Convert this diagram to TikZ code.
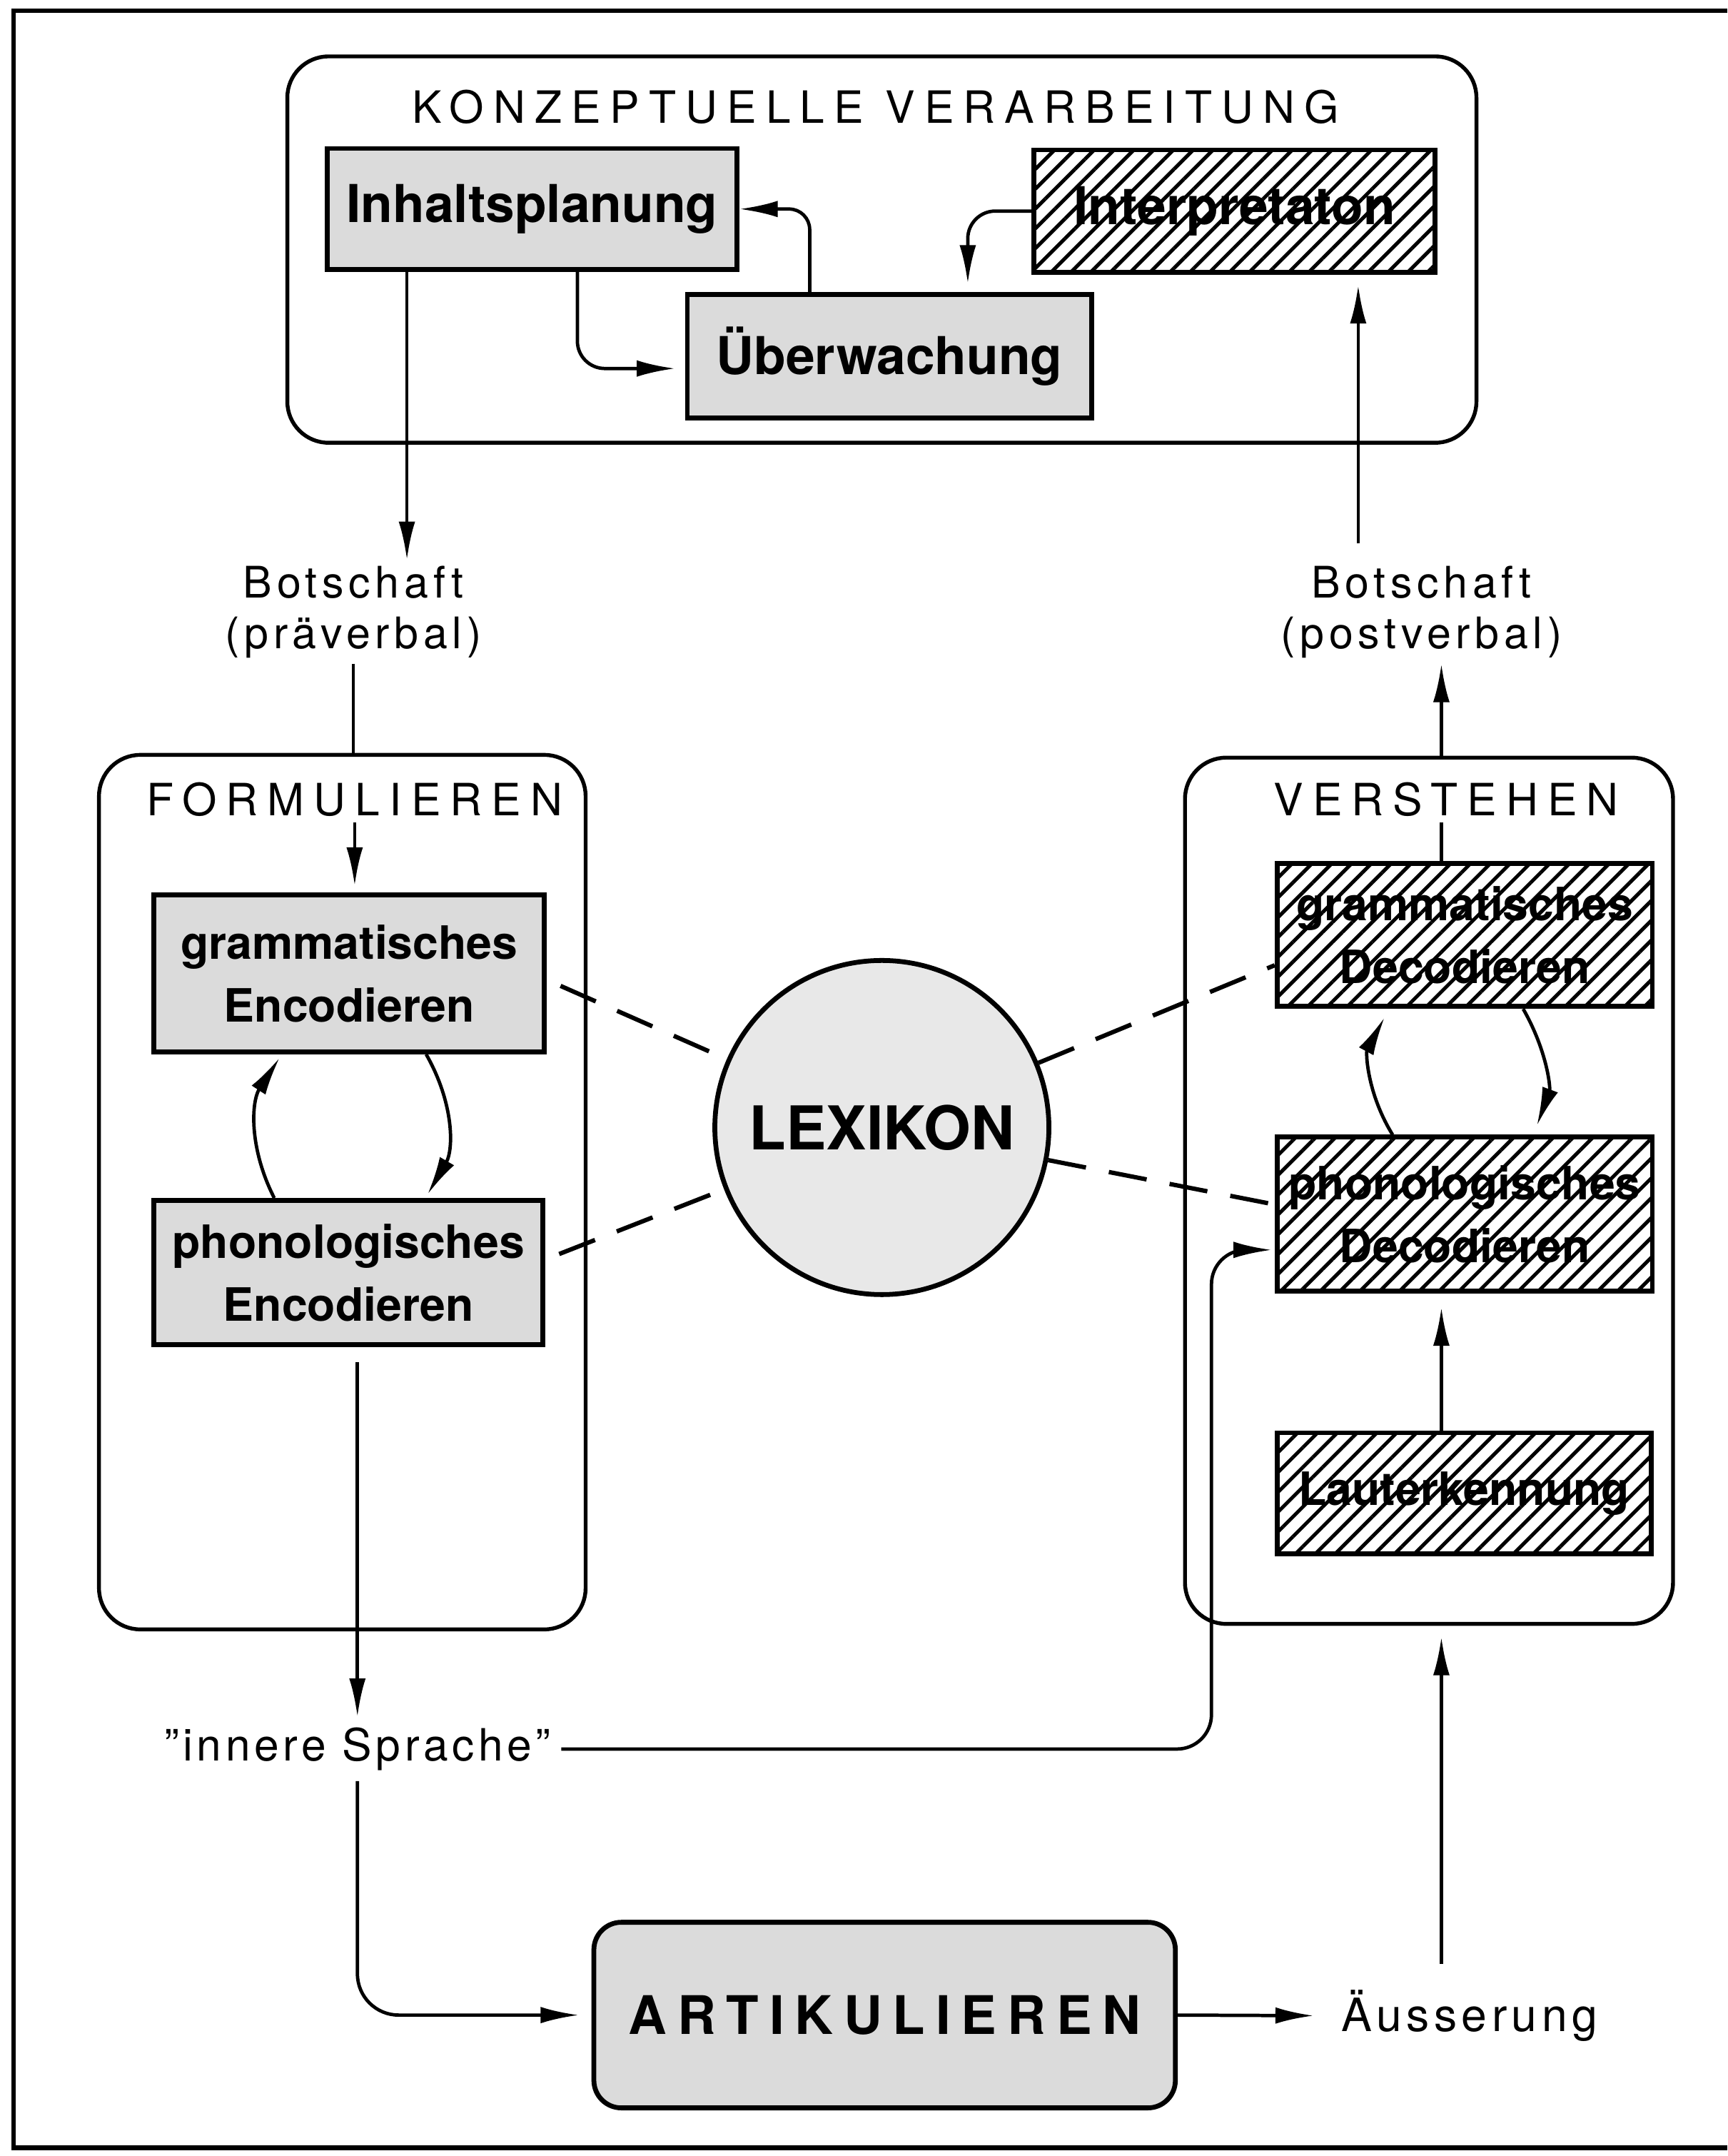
\documentclass[tikz,border=0pt]{standalone}
\usepackage{fontspec}
\setmainfont{TeX Gyre Heros}
\usepackage{tikz}
\usetikzlibrary{positioning, arrows.meta, patterns.meta}

\begin{document}
\begin{tikzpicture}[x=0.1mm, y=-0.1mm,
  every node/.style={inner sep=1pt},
  grouptitle/.style={font=\fontsize{9.2}{11}\selectfont\addfontfeatures{LetterSpace=21}},
  msg/.style={align=center, font=\fontsize{9}{10.5}\selectfont\addfontfeatures{LetterSpace=11}},
  stage/.style={draw, line width=0.8pt, rounded corners=3mm},
  greybox/.style={draw, line width=1pt, fill=black!14, align=center, inner sep=0pt},
  hatchbox/.style={draw, line width=1pt, align=center, inner sep=0pt,
    pattern={Lines[angle=45, distance=2.9pt, line width=0.75pt]}},
  toptext/.style={font=\fontsize{10.8}{13}\selectfont\bfseries},
  boxtext/.style={font=\fontsize{9.5}{13}\selectfont\bfseries},
  arr/.style={line width=0.7pt, -{Latex[length=2.8mm, width=1.2mm]}},
  lexlink/.style={line width=0.9pt, dash pattern=on 2.8mm off 1.7mm}
]
  \useasboundingbox (0,0) rectangle (1256.5,1568);
  \draw[line width=0.9pt] (1256.5,8) -- (10,8) -- (10,1562) -- (1256.5,1562);

  % the three stages
  \node[stage, minimum width=86.5mm, minimum height=28.1mm] (konz) at (641.5,181.5) {};
  \node[stage, minimum width=35.4mm, minimum height=63.6mm] (form) at (249,867) {};
  \node[stage, minimum width=35.5mm, minimum height=63mm] (vers) at (1039.5,866) {};
  \node[grouptitle] (ktitle) at (637,78) {KONZEPTUELLE VERARBEITUNG};
  \node[grouptitle] (ftitle) at (258,581.5) {FORMULIEREN};
  \node[grouptitle] (vtitle) at (1052,581.5) {VERSTEHEN};

  % boxes
  \node[greybox, toptext, minimum width=29.8mm, minimum height=8.8mm] (plan) at (387,152) {Inhaltsplanung};
  \node[hatchbox, toptext, minimum width=29.2mm, minimum height=8.9mm] (interp) at (898,153.5) {Interpretaton};
  \node[greybox, toptext, minimum width=29.4mm, minimum height=9mm] (watch) at (647,259) {Überwachung};
  \node[greybox, boxtext, minimum width=28.4mm, minimum height=11.4mm] (genc) at (254,708) {grammatisches\\Encodieren};
  \node[greybox, boxtext, minimum width=28.3mm, minimum height=10.5mm] (penc) at (253.5,925.5) {phonologisches\\Encodieren};
  \node[hatchbox, boxtext, minimum width=27.3mm, minimum height=10.4mm] (gdec) at (1065.5,680) {grammatisches\\Decodieren};
  \node[hatchbox, boxtext, minimum width=27.3mm, minimum height=11.2mm] (pdec) at (1065.5,883) {phonologisches\\Decodieren};
  \node[hatchbox, boxtext, minimum width=27.2mm, minimum height=8.8mm] (laut) at (1065,1086) {Lauterkennung};
  \node[circle, draw, line width=1pt, fill=black!9, minimum size=24.3mm, inner sep=0pt,
    font=\fontsize{12.5}{15}\selectfont\bfseries] (lex) at (641.5,820) {LEXIKON};
  \node[greybox, rounded corners=2mm, minimum width=42.3mm, minimum height=13.5mm,
    font=\fontsize{11}{13}\selectfont\bfseries\addfontfeatures{LetterSpace=20}] (art) at (643.5,1465.5) {ARTIKULIEREN};

  % free labels
  \node[msg] (bpre) at (257,445) {Botschaft\\(präverbal)};
  \node[msg] (bpost) at (1034,445) {Botschaft\\(postverbal)};
  \node[msg, inner sep=2pt, font=\fontsize{9.2}{11}\selectfont\addfontfeatures{LetterSpace=9}] (inner) at (260,1272) {"innere Sprache"};
  \node[msg, font=\fontsize{9.5}{11}\selectfont\addfontfeatures{LetterSpace=10}] (out) at (1069,1466) {Äusserung};

  \coordinate (lcol) at ([xshift=-9.1mm]plan.south);
  \coordinate (icol) at ([xshift=9mm]interp.south);
  \coordinate (rcol) at ([xshift=-1.7mm]gdec.north);

  % conceptual loop
  \draw[arr, rounded corners=1.5mm] ([xshift=-5.8mm]watch.north) |- (plan.east);
  \draw[arr, rounded corners=2mm, shorten >=0.6mm] (interp.west) -| ([xshift=5.7mm]watch.north);
  \draw[arr, rounded corners=2mm, shorten >=0.7mm] ([xshift=3.3mm]plan.south) |- ([yshift=-0.9mm]watch.west);

  % messages
  \draw[arr] (lcol) -- (lcol |- bpre.north);
  \draw[line width=0.7pt] (bpre.south) -- (bpre.south |- form.north);
  \draw[arr, shorten >=0.5mm] (ftitle.south) -- (ftitle.south |- genc.north);
  \draw[line width=0.7pt] (gdec.north -| rcol) -- (rcol |- vtitle.south);
  \draw[arr] (vers.north -| rcol) -- (rcol |- bpost.south);
  \draw[arr, shorten <=1.2mm, shorten >=0.8mm] (icol |- bpost.north) -- (icol);

  % loops inside the stages
  \draw[arr, shorten >=0.3mm] ([xshift=-5.4mm]penc.north) to[bend left=30] ([xshift=-4.9mm]genc.south);
  \draw[arr, shorten >=0.3mm] ([xshift=5.6mm]genc.south) to[bend left=30] ([xshift=5.6mm]penc.north);
  \draw[arr, shorten >=0.7mm] ([xshift=-5.25mm]pdec.north) to[bend left=30] ([xshift=-5.5mm]gdec.south);
  \draw[arr, shorten >=0.7mm] ([xshift=4.25mm]gdec.south) to[bend left=25] ([xshift=5mm]pdec.north);
  \draw[arr, shorten >=1mm] (laut.north -| rcol) -- (pdec.south -| rcol);

  % lexicon
  \draw[lexlink] ([xshift=1mm, yshift=-0.9mm]genc.east) -- (lex);
  \draw[lexlink] ([xshift=1mm, yshift=1.35mm]penc.east) -- (lex);
  \draw[lexlink] (lex) -- ([yshift=-2.2mm]gdec.west);
  \draw[lexlink] (lex) -- ([yshift=0.7mm]pdec.west);

  % speech
  \draw[arr, shorten <=1.1mm] (inner.north |- penc.south) -- (inner.north);
  \draw[arr, rounded corners=2.5mm, shorten >=0.2mm] (inner.east) -| ([xshift=-4.6mm, yshift=-2.6mm]pdec.west) -- ([yshift=-2.6mm]pdec.west);
  \draw[arr, rounded corners=3mm, shorten >=0.9mm] (inner.south) |- (art.west);
  \draw[arr, shorten >=1.6mm] (art.east) -- (out.west);
  \draw[arr, shorten <=1.5mm, shorten >=0.8mm] (out.north -| rcol) -- (vers.south -| rcol);
\end{tikzpicture}
\end{document}
